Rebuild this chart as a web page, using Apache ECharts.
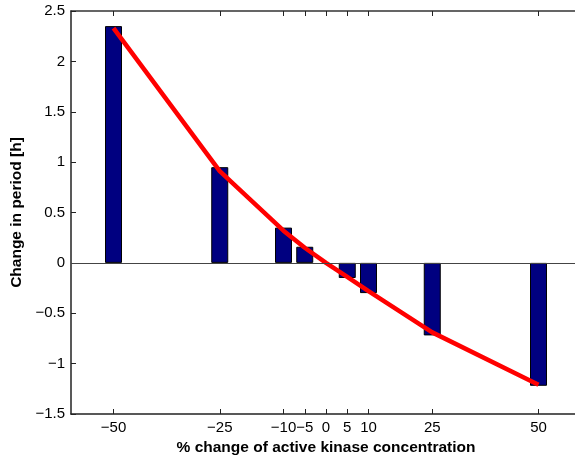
<!DOCTYPE html>
<html>
<head>
<meta charset="utf-8">
<script src="https://cdn.jsdelivr.net/npm/echarts@6/dist/echarts.min.js"></script>
<style>
  html, body { margin: 0; padding: 0; background: #fff; }
  #chart { width: 575px; height: 458px; }
</style>
</head>
<body>
<div id="chart"></div>
<script>
// Percent change of active kinase concentration (x positions of the bars)
const kinaseChange = [-50, -25, -10, -5, 5, 10, 25, 50];
// Change in period [h] for each perturbation
const periodChange = [2.35, 0.95, 0.35, 0.16, -0.15, -0.30, -0.72, -1.22];
// Smooth trend curve through the perturbations (includes the unperturbed point)
const trendX = [-50, -25, -10, -5, 0, 5, 10, 25, 50];
const trendY = [2.33, 0.91, 0.32, 0.15, 0, -0.14, -0.28, -0.69, -1.21];
// Tick labels
const xTicks = [-50, -25, -10, -5, 0, 5, 10, 25, 50];
const yTicks = [-1.5, -1, -0.5, 0, 0.5, 1, 1.5, 2, 2.5];

const X_MIN = -60, X_MAX = 60;
const GRID = { left: 71, top: 11, right: -6, bottom: 44 };
const plotWidth = 575 - GRID.left - GRID.right;
const barUnits = 4; // bar width in x-axis units
const barPx = barUnits * plotWidth / (X_MAX - X_MIN);

const minus = v => String(v).replace('-', '\u2212');
const FONT = 'Liberation Sans, Arial, Helvetica, sans-serif';

const chart = echarts.init(document.getElementById('chart'), null, { renderer: 'canvas' });

const barData = kinaseChange.map((x, i) => [x, periodChange[i]]);
const lineData = trendX.map((x, i) => [x, trendY[i]]);

chart.setOption({
  animation: false,
  backgroundColor: '#fff',
  grid: Object.assign({ containLabel: false, outerBoundsMode: 'none' }, GRID),
  xAxis: [{
    type: 'value',
    min: X_MIN, max: X_MAX,
    position: 'bottom',
    name: '% change of active kinase concentration',
    nameLocation: 'middle',
    nameGap: 20,
    nameTextStyle: { fontFamily: FONT, fontSize: 15.5, fontWeight: 'bold', color: '#000' },
    axisLine: { onZero: false, lineStyle: { color: '#222', width: 1.5 } },
    axisTick: { inside: true, length: 5, customValues: xTicks, lineStyle: { color: '#222' } },
    axisLabel: { customValues: xTicks, formatter: minus, margin: 6, fontFamily: FONT, fontSize: 15, color: '#000' },
    splitLine: { show: false }
  }, {
    type: 'value',
    min: X_MIN, max: X_MAX,
    position: 'top',
    axisLine: { onZero: false, lineStyle: { color: '#333', width: 1.5 } },
    axisTick: { inside: true, length: 5, customValues: xTicks, lineStyle: { color: '#222' } },
    axisLabel: { show: false },
    splitLine: { show: false }
  }],
  yAxis: [{
    type: 'value',
    min: -1.5, max: 2.5, interval: 0.5,
    name: 'Change in period [h]',
    nameLocation: 'middle',
    nameGap: 44,
    nameTextStyle: { fontFamily: FONT, fontSize: 15.5, fontWeight: 'bold', color: '#000' },
    axisLine: { show: true, onZero: false, lineStyle: { color: '#222', width: 1.5 } },
    axisTick: { inside: true, length: 5, customValues: yTicks, lineStyle: { color: '#222' } },
    axisLabel: { customValues: yTicks, formatter: minus, margin: 6, fontFamily: FONT, fontSize: 15, color: '#000' },
    splitLine: { show: false }
  }],
  series: [{
    type: 'bar',
    data: barData,
    barWidth: barPx,
    itemStyle: { color: '#000080', borderColor: '#000', borderWidth: 1 },
    markLine: {
      silent: true,
      symbol: 'none',
      label: { show: false },
      lineStyle: { color: '#444', width: 1, type: 'solid' },
      data: [{ yAxis: 0 }]
    },
    z: 2
  }, {
    type: 'line',
    data: lineData,
    showSymbol: false,
    smooth: false,
    lineStyle: { color: '#ff0000', width: 4.5 },
    z: 3
  }]
});
</script>
</body>
</html>
